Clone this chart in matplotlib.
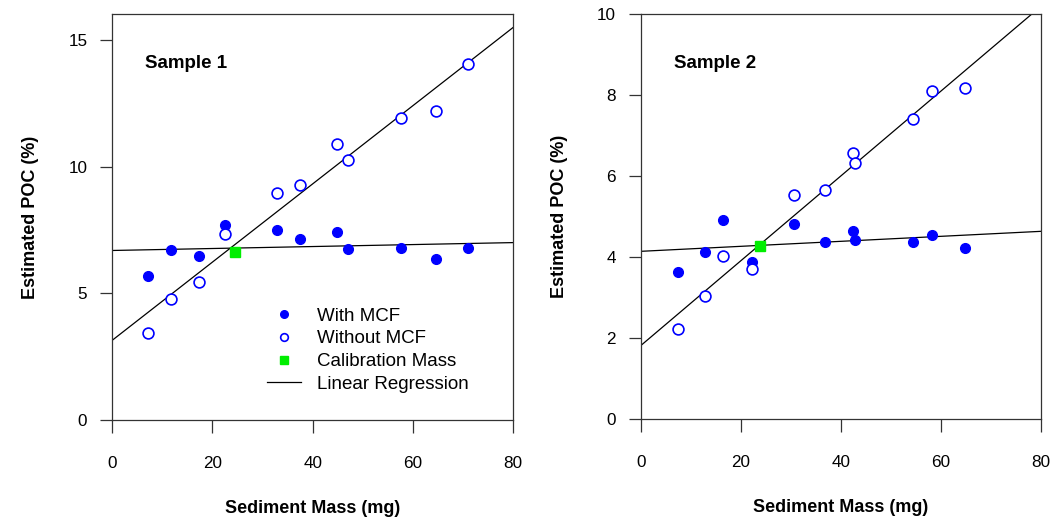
import numpy as np
import matplotlib.pyplot as plt

plt.rcParams['font.family'] = ['Liberation Sans', 'DejaVu Sans']

# Sample 1
mass1 = [7.2, 11.8, 17.4, 22.5, 32.9, 37.5, 44.9, 47.0, 57.6, 64.5, 70.9]
poc1_mcf = [5.68, 6.70, 6.47, 7.68, 7.50, 7.13, 7.41, 6.74, 6.78, 6.36, 6.79]
poc1_raw = [3.45, 4.76, 5.45, 7.34, 8.97, 9.28, 10.90, 10.25, 11.93, 12.21, 14.05]
calib1 = (24.4, 6.65)

# Sample 2
mass2 = [7.45, 12.9, 16.4, 22.3, 30.6, 36.9, 42.4, 42.8, 54.4, 58.1, 64.8]
poc2_mcf = [3.62, 4.12, 4.92, 3.88, 4.81, 4.38, 4.65, 4.42, 4.37, 4.55, 4.23]
poc2_raw = [2.22, 3.04, 4.02, 3.70, 5.52, 5.65, 6.57, 6.32, 7.41, 8.10, 8.17]
calib2 = (23.8, 4.28)

BLUE = '#0000FF'
GREEN = '#00EE00'


def draw_panel(ax, mass, mcf, raw, calib, ymax, yticks, title, legend=False):
    xs = np.array([0, 80])
    # regressioni lineari
    for y in (raw, mcf):
        b, a = np.polyfit(mass, y, 1)
        ax.plot(xs, a + b * xs, color='black', lw=0.9, zorder=2)
    ax.plot(mass, mcf, 'o', color=BLUE, ms=7, zorder=3)
    ax.plot(mass, raw, 'o', mfc='white', mec=BLUE, mew=1.2, ms=7.8, zorder=3)
    ax.plot([calib[0]], [calib[1]], 's', color=GREEN, ms=7.5, zorder=4)

    ax.set_xlim(0, 80)
    ax.set_ylim(0, ymax)
    ax.set_xticks([0, 20, 40, 60, 80])
    ax.set_yticks(yticks)
    ax.tick_params(direction='out', length=9, width=0.9, labelsize=12.3, colors='#333333',
                   labelcolor='black')
    ax.tick_params(axis='x', pad=17)
    ax.tick_params(axis='y', pad=9)
    for s in ax.spines.values():
        s.set_linewidth(0.9)
        s.set_color('#333333')
    ax.set_xlabel('Sediment Mass (mg)', fontsize=13, fontweight='bold', labelpad=20.5)
    ax.set_ylabel('Estimated POC (%)', fontsize=13, fontweight='bold', labelpad=21)
    ax.text(0.082, 0.877, title, transform=ax.transAxes, fontsize=13.5,
            fontweight='bold', va='center', ha='left')

    if legend:
        h1, = ax.plot([], [], 'o', color=BLUE, ms=5.5)
        h2, = ax.plot([], [], 'o', mfc='white', mec=BLUE, mew=1.2, ms=5.5)
        h3, = ax.plot([], [], 's', color=GREEN, ms=5.5)
        h4, = ax.plot([], [], color='black', lw=0.9)
        ax.legend([h1, h2, h3, h4],
                  ['With MCF', 'Without MCF', 'Calibration Mass', 'Linear Regression'],
                  loc='upper left', bbox_to_anchor=(0.385, 0.277), frameon=False,
                  fontsize=13.5, handlelength=1.85, handletextpad=0.85,
                  labelspacing=0.3, borderpad=0, borderaxespad=0)


fig = plt.figure(figsize=(10.56, 5.17), dpi=100)
ax1 = fig.add_axes([0.1063, 0.1876, 0.3797, 0.7853])
ax2 = fig.add_axes([0.6070, 0.1895, 0.3788, 0.7834])

draw_panel(ax1, mass1, poc1_mcf, poc1_raw, calib1, 16.03, [0, 5, 10, 15], 'Sample 1', legend=True)
draw_panel(ax2, mass2, poc2_mcf, poc2_raw, calib2, 10, [0, 2, 4, 6, 8, 10], 'Sample 2')

fig.savefig('out.png', dpi=100)
